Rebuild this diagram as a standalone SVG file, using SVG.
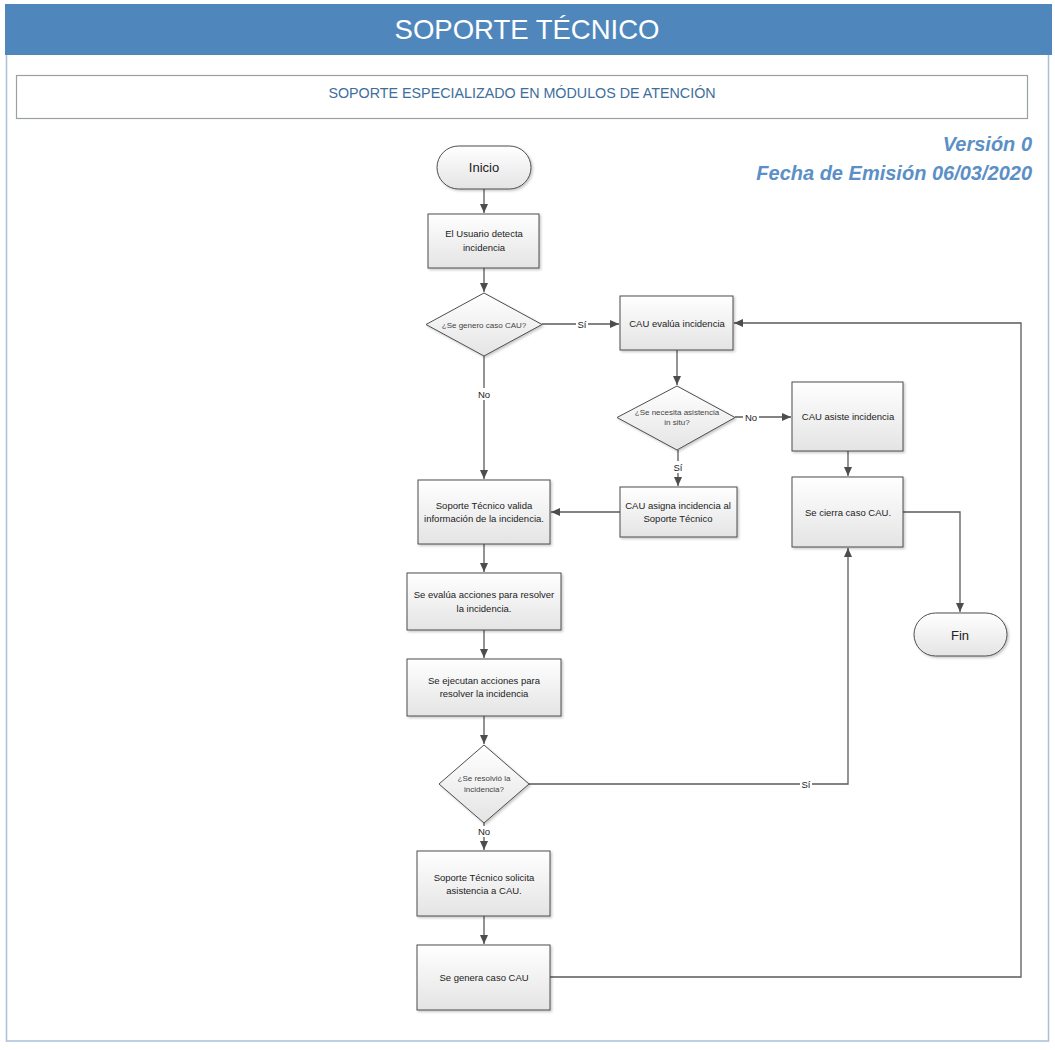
<svg xmlns="http://www.w3.org/2000/svg" width="1055" height="1050" viewBox="0 0 1055 1050">
<style>
.node rect.b,.node path.b{fill:url(#g);stroke:#4d4d4d;stroke-width:1;filter:url(#sh)}
.t{font-family:"Liberation Sans",Arial,sans-serif;font-size:9.5px;fill:#222;text-anchor:middle}
.dt{font-family:"Liberation Sans",Arial,sans-serif;font-size:8px;fill:#444;text-anchor:middle}
.term{font-family:"Liberation Sans",Arial,sans-serif;font-size:13px;fill:#222;text-anchor:middle}
.lbl{font-family:"Liberation Sans",Arial,sans-serif;font-size:9.5px;fill:#222;text-anchor:middle}
.c{fill:none;stroke:#5a5a5a;stroke-width:1.3}
</style>
<defs>
<linearGradient id="g" x1="0" y1="0" x2="0" y2="1">
<stop offset="0" stop-color="#ffffff"/>
<stop offset="1" stop-color="#e4e4e4"/>
</linearGradient>
<filter id="sh" x="-10%" y="-10%" width="130%" height="130%">
<feDropShadow dx="1.5" dy="1.5" stdDeviation="1" flood-color="#000" flood-opacity="0.22"/>
</filter>
<marker id="ar" markerWidth="10" markerHeight="10" refX="9" refY="5" orient="auto" markerUnits="userSpaceOnUse">
<path d="M0,1 L9,5 L0,9 Z" fill="#4d4d4d"/>
</marker>
</defs>
<rect width="1055" height="1050" fill="#ffffff"/>
<g id="frame">
<rect x="6.5" y="50" width="1042" height="991" fill="none" stroke="#a9bfd4" stroke-width="1.5"/>
<rect x="5" y="4" width="1047" height="51" fill="#4f87bd"/>
<text x="527" y="39" font-family="Liberation Sans,Arial,sans-serif" font-size="27.5" fill="#ffffff" text-anchor="middle">SOPORTE TÉCNICO</text>
<rect x="16.5" y="75.5" width="1011" height="43" fill="#ffffff" stroke="#9a9fa5" stroke-width="1.2"/>
<text x="522" y="97.5" font-family="Liberation Sans,Arial,sans-serif" font-size="14.3" fill="#3d6e9c" text-anchor="middle">SOPORTE ESPECIALIZADO EN MÓDULOS DE ATENCIÓN</text>
<text x="1032" y="151" font-family="Liberation Sans,Arial,sans-serif" font-size="20" font-weight="bold" font-style="italic" fill="#5b8fc6" text-anchor="end">Versión 0</text>
<text x="1032" y="180" font-family="Liberation Sans,Arial,sans-serif" font-size="20" font-weight="bold" font-style="italic" fill="#5b8fc6" text-anchor="end">Fecha de Emisión 06/03/2020</text>
</g>
<g id="connectors">
<path class="c" d="M484,189 V213" marker-end="url(#ar)"/>
<path class="c" d="M484,268 V292" marker-end="url(#ar)"/>
<path class="c" d="M542,324 H619" marker-end="url(#ar)"/>
<path class="c" d="M484,356 V479" marker-end="url(#ar)"/>
<path class="c" d="M677,350 V385" marker-end="url(#ar)"/>
<path class="c" d="M735,417 H791" marker-end="url(#ar)"/>
<path class="c" d="M678,450 V486" marker-end="url(#ar)"/>
<path class="c" d="M620,512 H551" marker-end="url(#ar)"/>
<path class="c" d="M848,451 V476" marker-end="url(#ar)"/>
<path class="c" d="M903,512 H960 V612" marker-end="url(#ar)"/>
<path class="c" d="M484,544 V572" marker-end="url(#ar)"/>
<path class="c" d="M484,630 V658" marker-end="url(#ar)"/>
<path class="c" d="M484,716 V744" marker-end="url(#ar)"/>
<path class="c" d="M529,784 H848 V548" marker-end="url(#ar)"/>
<path class="c" d="M484,823 V850" marker-end="url(#ar)"/>
<path class="c" d="M484,916 V944" marker-end="url(#ar)"/>
<path class="c" d="M550,977 H1021 V323 H734" marker-end="url(#ar)"/>
<rect x="576" y="318" width="12" height="12" fill="#fff"/>
<text class="lbl" x="582" y="327.5">Sí</text>
<rect x="476" y="388" width="16" height="12" fill="#fff"/>
<text class="lbl" x="484" y="397.5">No</text>
<rect x="743" y="411" width="16" height="12" fill="#fff"/>
<text class="lbl" x="751" y="420.5">No</text>
<rect x="672" y="461" width="12" height="12" fill="#fff"/>
<text class="lbl" x="678" y="470.5">Sí</text>
<rect x="800" y="778" width="12" height="12" fill="#fff"/>
<text class="lbl" x="806" y="787.5">Sí</text>
<rect x="476" y="826" width="16" height="11" fill="#fff"/>
<text class="lbl" x="484" y="834.5">No</text>
</g>
<g id="inicio" class="node">
<rect class="b" x="437" y="146" width="94" height="43" rx="21.5"/>
<text class="term" x="484" y="172">Inicio</text>
</g>
<g id="usuario" class="node">
<rect class="b" x="428" y="214" width="111" height="54"/>
<text class="t" x="484" y="237">El Usuario detecta</text>
<text class="t" x="484" y="251">incidencia</text>
</g>
<g id="d1" class="node">
<path class="b" d="M484,293 L542,324.5 L484,356 L426,324.5 Z"/>
<text class="dt" x="484" y="327.5">¿Se genero caso CAU?</text>
</g>
<g id="evalua" class="node">
<rect class="b" x="620" y="296" width="113" height="54"/>
<text class="t" x="677" y="326.5">CAU evalúa incidencia</text>
</g>
<g id="d2" class="node">
<path class="b" d="M677,386 L735,417.5 L677,450 L617,417.5 Z"/>
<text class="dt" x="677" y="415">¿Se necesita asistencia</text>
<text class="dt" x="677" y="425">in situ?</text>
</g>
<g id="asiste" class="node">
<rect class="b" x="792" y="382" width="111" height="69"/>
<text class="t" x="848" y="419.5">CAU asiste incidencia</text>
</g>
<g id="cierra" class="node">
<rect class="b" x="792" y="477" width="111" height="70"/>
<text class="t" x="848" y="515.5">Se cierra caso CAU.</text>
</g>
<g id="fin" class="node">
<rect class="b" x="914" y="613" width="93" height="43" rx="21.5"/>
<text class="term" x="960" y="640">Fin</text>
</g>
<g id="asigna" class="node">
<rect class="b" x="620" y="487" width="117" height="50"/>
<text class="t" x="678" y="509">CAU asigna incidencia al</text>
<text class="t" x="678" y="522">Soporte Técnico</text>
</g>
<g id="valida" class="node">
<rect class="b" x="418" y="480" width="132" height="64"/>
<text class="t" x="484" y="509">Soporte Técnico valida</text>
<text class="t" x="484" y="522">información de la incidencia.</text>
</g>
<g id="evalacc" class="node">
<rect class="b" x="407" y="573" width="154" height="57"/>
<text class="t" x="484" y="598">Se evalúa acciones para resolver</text>
<text class="t" x="484" y="612">la incidencia.</text>
</g>
<g id="ejecuta" class="node">
<rect class="b" x="407" y="659" width="154" height="57"/>
<text class="t" x="484" y="684">Se ejecutan acciones para</text>
<text class="t" x="484" y="697">resolver la incidencia</text>
</g>
<g id="d3" class="node">
<path class="b" d="M484,745 L529,784 L484,823 L439,784 Z"/>
<text class="dt" x="484" y="781">¿Se resolvió la</text>
<text class="dt" x="484" y="792">incidencia?</text>
</g>
<g id="solicita" class="node">
<rect class="b" x="417" y="851" width="133" height="65"/>
<text class="t" x="484" y="881">Soporte Técnico solicita</text>
<text class="t" x="484" y="894">asistencia a CAU.</text>
</g>
<g id="genera" class="node">
<rect class="b" x="417" y="945" width="133" height="65"/>
<text class="t" x="484" y="980.5">Se genera caso CAU</text>
</g>
</svg>
